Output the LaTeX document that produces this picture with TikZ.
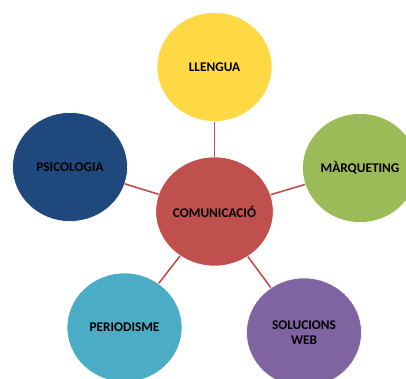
\documentclass[tikz,border=0pt]{standalone}
\usepackage{fontspec}
\setmainfont{Carlito}
\usetikzlibrary{shapes.geometric}
\definecolor{cred}{HTML}{C0504D}
\definecolor{cyellow}{HTML}{FFD944}
\definecolor{cgreen}{HTML}{9BBB59}
\definecolor{cblue}{HTML}{1F497D}
\definecolor{cteal}{HTML}{4BACC6}
\definecolor{cpurple}{HTML}{8064A2}
\tikzset{
  bubble/.style={ellipse, minimum width=115pt, minimum height=109pt, inner sep=0pt,
    draw=white, line width=0.6pt, align=center,
    font=\fontsize{13.3}{15.5}\selectfont\bfseries, text=black},
  link/.style={draw=cred, line width=1.6pt}
}
\begin{document}
\begin{tikzpicture}[x=1pt,y=1pt]
\useasboundingbox (0,0) rectangle (406,379);
\node[bubble, fill=cred]    (c) at (214.5,167.5) {COMUNICACIÓ};
\node[bubble, fill=cyellow] (l) at (214.5,312)   {LLENGUA};
\node[bubble, fill=cgreen]  (m) at (360,211)     {MÀRQUETING};
\node[bubble, fill=cblue]   (p) at (70,212)      {PSICOLOGIA};
\node[bubble, fill=cteal]   (d) at (124.5,51.5)  {PERIODISME};
\node[bubble, fill=cpurple] (s) at (304,46.5)    {SOLUCIONS\\WEB};
\foreach \n in {l,m,p,d,s} \draw[link] (c) -- (\n);
\end{tikzpicture}
\end{document}
